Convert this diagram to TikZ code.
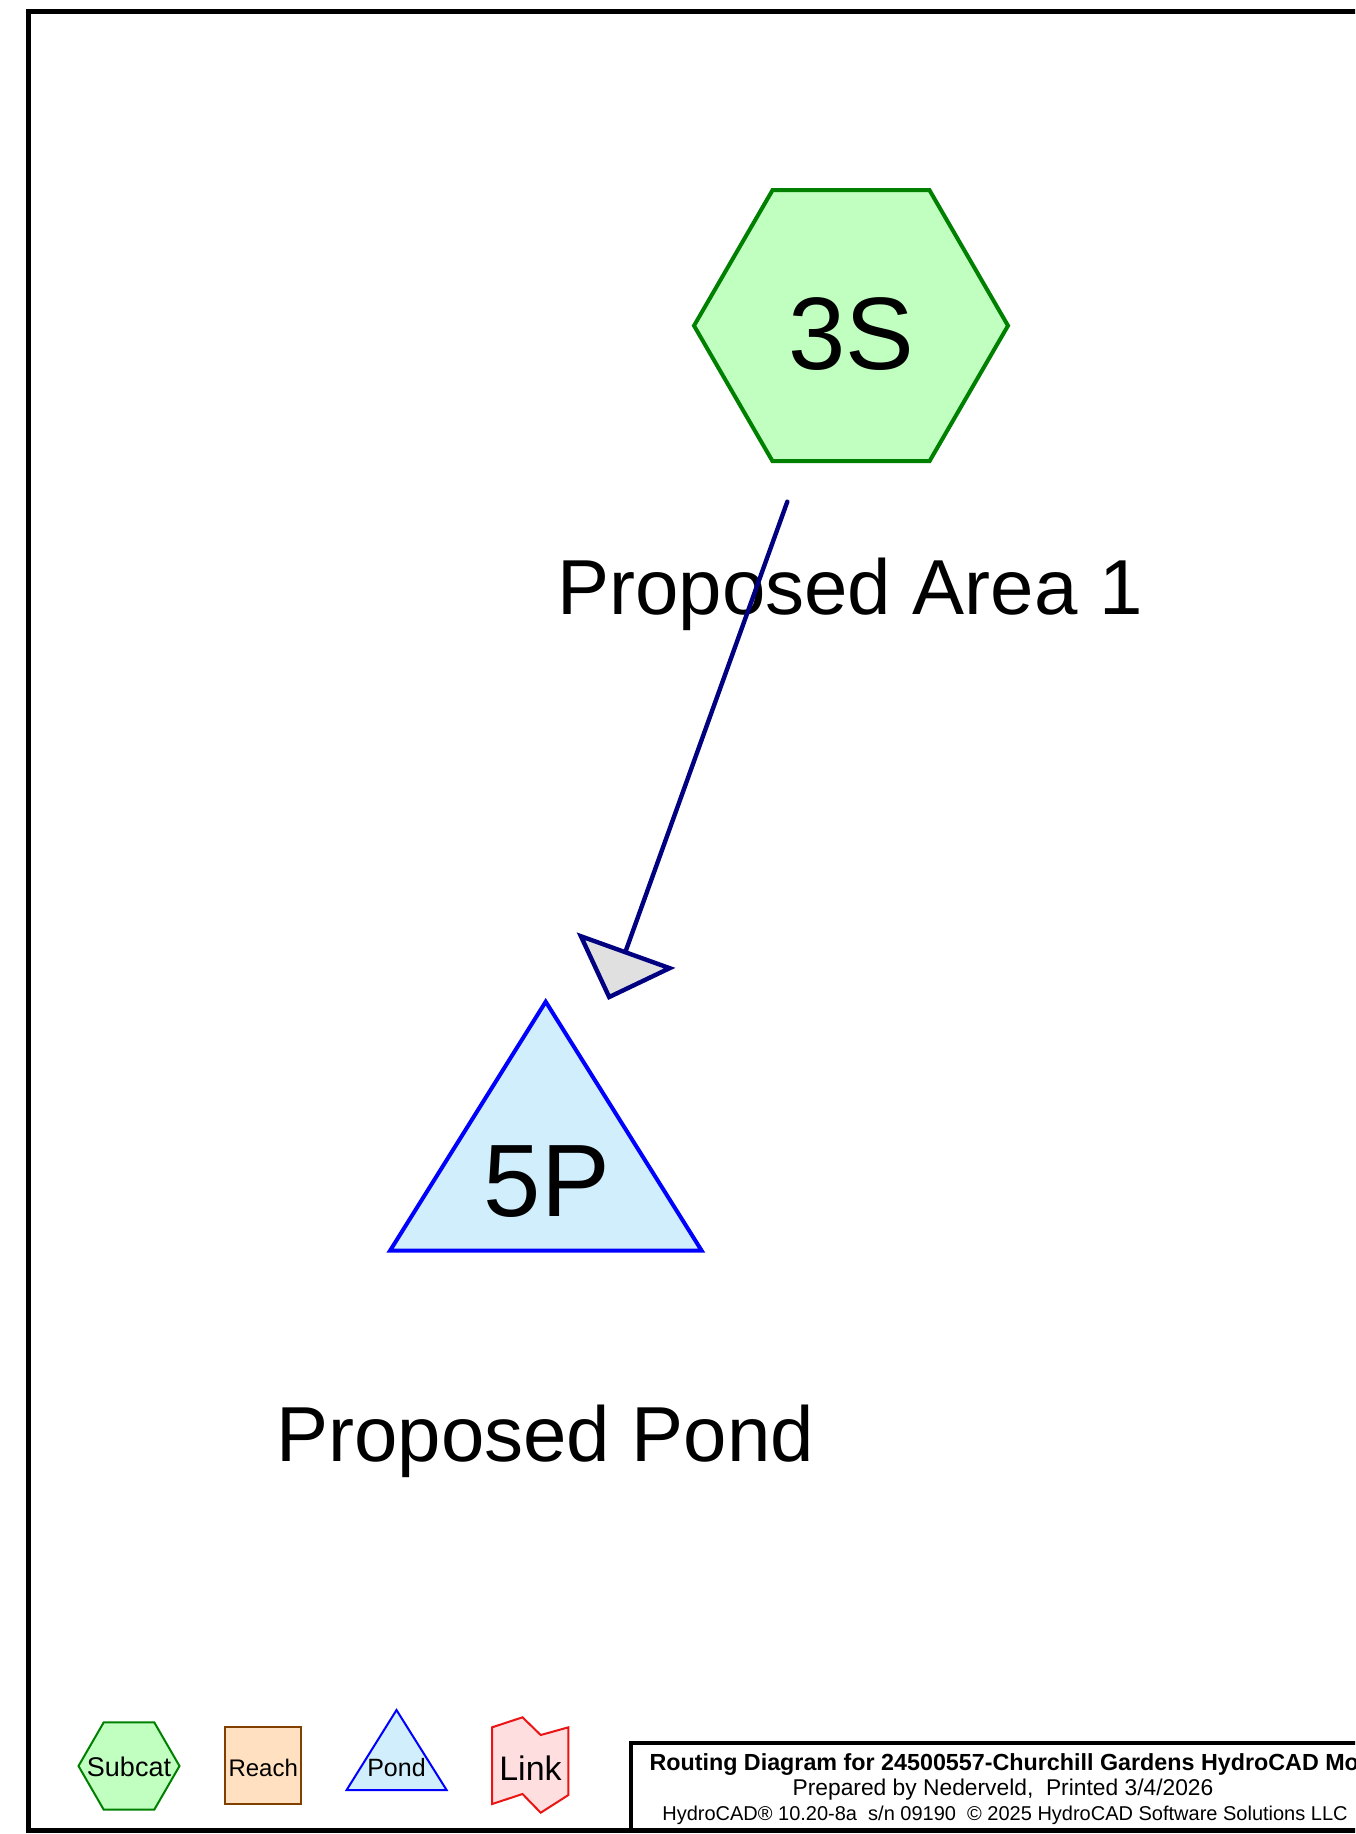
\documentclass[tikz,border=0pt]{standalone}
\usepackage{fontspec}
\setmainfont{Liberation Sans}
\usetikzlibrary{arrows.meta}
\definecolor{subfill}{RGB}{192,255,192}
\definecolor{subline}{RGB}{0,128,0}
\definecolor{pondfill}{RGB}{208,238,251}
\definecolor{pondline}{RGB}{0,0,255}
\definecolor{reachfill}{RGB}{255,224,192}
\definecolor{reachline}{RGB}{128,64,0}
\definecolor{linkfill}{RGB}{255,222,224}
\definecolor{linkline}{RGB}{235,20,20}
\definecolor{flowline}{RGB}{0,0,128}
\definecolor{tipfill}{RGB}{224,224,224}
\begin{document}
\begin{tikzpicture}[x=0.5pt,y=-0.5pt,
  txt/.style={inner sep=0pt,outer sep=0pt,anchor=base},
  bigid/.style={txt,font=\fontsize{51.5pt}{51.5pt}\selectfont},
  biglabel/.style={txt,anchor=base west,font=\fontsize{39pt}{39pt}\selectfont},
  subshape/.style={draw=subline,fill=subfill,line join=miter},
  pondshape/.style={draw=pondline,fill=pondfill,line join=miter},
  reachshape/.style={draw=reachline,fill=reachfill},
  linkshape/.style={draw=linkline,fill=linkfill,line join=miter},
  flow/.style={draw=flowline,line width=2.2pt,line cap=round,
    -{Triangle[length=26.5pt,width=52pt,fill=tipfill,line join=miter]}},
  frameline/.style={draw=black,line width=2.5pt}
]
\useasboundingbox (0,0) rectangle (1355,1834);
\clip (0,0) rectangle (1355,1834);
\fill[white] (0,0) rectangle (1355,1834);

% outer frame
\draw[frameline] (1400,11.5) -- (28.5,11.5) -- (28.5,1830) -- (1400,1830);

% subcatchment 3S
\draw[subshape,line width=2pt] (694,325.7) -- (772.5,190.2) -- (929.5,190.2) -- (1008,325.7) -- (929.5,461.2) -- (772.5,461.2) -- cycle;
\node[bigid] (t3s) at (851.2,369.5) {3S};
\node[biglabel] (lblarea) at (557.5,614) {Proposed Area 1};

% pond 5P
\draw[pondshape,line width=2pt] (545.7,1001.7) -- (701.7,1250.7) -- (390,1250.7) -- cycle;
\node[bigid] (t5p) at (546.8,1216.3) {5P};
\node[biglabel] (lblpond) at (276.5,1461.7) {Proposed Pond};

% flow connector
\coordinate (fstart) at (787.3,501.7);
\coordinate (ftip) at (608.1,1000);
\draw[flow] (fstart) -- (ftip);

% legend
\draw[subshape,line width=1pt] (78.5,1766) -- (103.75,1722.3) -- (154.25,1722.3) -- (179.5,1766) -- (154.25,1809.7) -- (103.75,1809.7) -- cycle;
\node[txt,font=\fontsize{13.5pt}{13.5pt}\selectfont] (lsub) at (129,1776.7) {Subcat};
\draw[reachshape,line width=1pt] (225.3,1727.3) rectangle (301.2,1804);
\node[txt,font=\fontsize{12pt}{12pt}\selectfont] (lreach) at (263.2,1776) {Reach};
\draw[pondshape,line width=1pt] (396.5,1710) -- (446.6,1790) -- (346.6,1790) -- cycle;
\node[txt,font=\fontsize{12.5pt}{12.5pt}\selectfont] (lpond) at (396.5,1776.7) {Pond};
\draw[linkshape,line width=1pt] (492.1,1727.3) -- (522.5,1717.3) -- (540.7,1735) -- (568.4,1727.3) -- (568.4,1795) -- (540.7,1812.7) -- (522.5,1794) -- (492.1,1804) -- cycle;
\node[txt,font=\fontsize{17pt}{17pt}\selectfont] (llink) at (530.5,1780) {Link};

% title block
\draw[line width=2pt] (631,1832) -- (631,1743.3) -- (1400,1743.3);
\node[txt,anchor=base west,font=\bfseries\fontsize{11.65pt}{11.65pt}\selectfont] (title1) at (649.5,1770) {Routing Diagram for 24500557-Churchill Gardens HydroCAD Model};
\node[txt,font=\fontsize{11.4pt}{11.4pt}\selectfont] (title2) at (1003,1795) {Prepared by Nederveld, \ Printed 3/4/2026};
\node[txt,font=\fontsize{10pt}{10pt}\selectfont] (title3) at (1005,1820) {HydroCAD® 10.20-8a \ s/n 09190 \ © 2025 HydroCAD Software Solutions LLC};
\end{tikzpicture}
\end{document}
